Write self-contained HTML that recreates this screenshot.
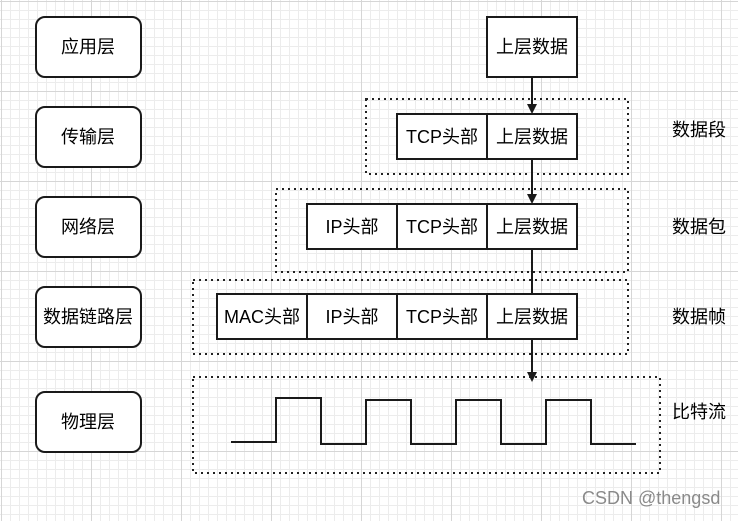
<!DOCTYPE html>
<html><head><meta charset="utf-8"><style>
html,body{margin:0;padding:0}
body{width:738px;height:521px;overflow:hidden;background-color:#fff;
background-image:linear-gradient(#d6d6d6 1px,transparent 1px),linear-gradient(90deg,#d6d6d6 1px,transparent 1px),linear-gradient(#ececec 1px,transparent 1px),linear-gradient(90deg,#ececec 1px,transparent 1px);
background-size:90px 90px,90px 90px,9px 9px,9px 9px;background-position:1px 1px,1px 1px,1px 1px,1px 1px}
svg{position:absolute;left:0;top:0}
text{font-family:"Liberation Sans","Noto Sans CJK SC",sans-serif;font-size:18px;fill:#000}
</style></head><body>
<svg width="738" height="521" viewBox="0 0 738 521">
<g fill="#fff" stroke="#1a1a1a" stroke-width="2">
<rect x="36" y="17" width="105" height="60" rx="9"/>
<rect x="36" y="107" width="105" height="60" rx="9"/>
<rect x="36" y="197" width="105" height="60" rx="9"/>
<rect x="36" y="287" width="105" height="60" rx="9"/>
<rect x="36" y="392" width="105" height="60" rx="9"/>
</g>
<g text-anchor="middle">
<text x="88" y="53">应用层</text>
<text x="88" y="143">传输层</text>
<text x="88" y="233">网络层</text>
<text x="88" y="323">数据链路层</text>
<text x="88" y="428">物理层</text>
</g>
<g fill="none" stroke="#222" stroke-width="2" stroke-dasharray="2 4">
<rect x="366" y="99" width="262" height="75"/>
<rect x="276" y="189" width="352" height="83"/>
<rect x="193" y="280" width="435" height="74"/>
<rect x="193" y="377" width="467" height="96"/>
</g>
<g stroke="#1a1a1a" stroke-width="2">
<line x1="532" y1="77" x2="532" y2="106"/>
<line x1="532" y1="159" x2="532" y2="196"/>
<line x1="532" y1="249" x2="532" y2="294"/>
<line x1="532" y1="339" x2="532" y2="374"/>
</g>
<g fill="#1a1a1a">
<polygon points="527,104 537,104 532,114"/>
<polygon points="527,194 537,194 532,204"/>
<polygon points="527,372 537,372 532,382"/>
</g>
<g fill="#fff" stroke="#1a1a1a" stroke-width="2">
<rect x="487" y="17" width="90" height="60"/>
<rect x="397" y="114" width="90" height="45"/><rect x="487" y="114" width="90" height="45"/>
<rect x="307" y="204" width="90" height="45"/><rect x="397" y="204" width="90" height="45"/><rect x="487" y="204" width="90" height="45"/>
<rect x="217" y="294" width="90" height="45"/><rect x="307" y="294" width="90" height="45"/><rect x="397" y="294" width="90" height="45"/><rect x="487" y="294" width="90" height="45"/>
</g>
<g text-anchor="middle">
<text x="532" y="53">上层数据</text>
<text x="442" y="143">TCP头部</text><text x="532" y="143">上层数据</text>
<text x="352" y="233">IP头部</text><text x="442" y="233">TCP头部</text><text x="532" y="233">上层数据</text>
<text x="262" y="323">MAC头部</text><text x="352" y="323">IP头部</text><text x="442" y="323">TCP头部</text><text x="532" y="323">上层数据</text>
</g>
<polyline fill="none" stroke="#1a1a1a" stroke-width="2" points="231,442 276,442 276,398 321,398 321,444 366,444 366,400 411,400 411,444 456,444 456,400 501,400 501,444 546,444 546,400 591,400 591,444 636,444"/>
<text x="672" y="136">数据段</text>
<text x="672" y="233">数据包</text>
<text x="672" y="323">数据帧</text>
<text x="672" y="418">比特流</text>
<text x="582" y="504" style="font-size:18px;fill:#8a8a8a">CSDN @thengsd</text>
</svg>
</body></html>
